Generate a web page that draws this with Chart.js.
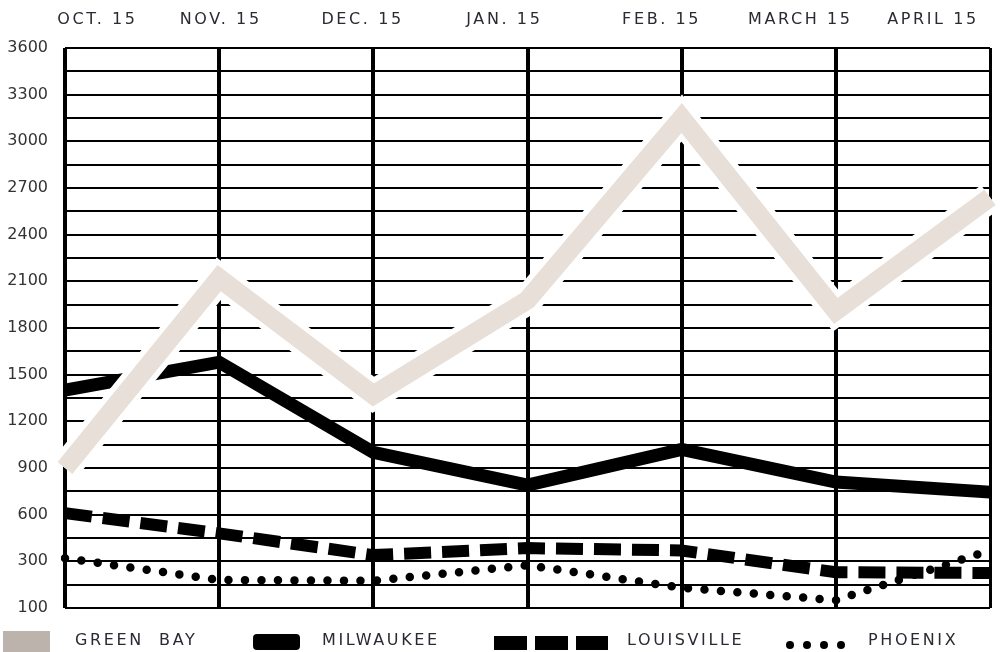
<!DOCTYPE html>
<html>
<head>
<meta charset="utf-8">
<script src="https://cdn.jsdelivr.net/npm/chart.js@4"></script>
<style>
  html, body { margin: 0; padding: 0; background: #fff; }
  #wrap { width: 1001px; height: 652px; }
</style>
</head>
<body>
<div id="wrap"><canvas id="chart"></canvas></div>
<script>
// months along the top, and where each label sits between the grid lines
const months = ['OCT. 15', 'NOV. 15', 'DEC. 15', 'JAN. 15', 'FEB. 15', 'MARCH 15', 'APRIL 15'];
const monthLabelAt = [0.21, 1.01, 1.93, 2.85, 3.87, 4.77, 5.63];

// y axis: lines every 150, labels every 300 (the bottom one is printed "100")
const yTickValues = [0, 300, 600, 900, 1200, 1500, 1800, 2100, 2400, 2700, 3000, 3300, 3600];
const yTickLabels = ['100', '300', '600', '900', '1200', '1500', '1800', '2100', '2400', '2700', '3000', '3300', '3600'];

const seriesNames = ['GREEN  BAY', 'MILWAUKEE', 'LOUISVILLE', 'PHOENIX'];
const greenBay = [900, 2120, 1370, 1980, 3150, 1910, 2640];
const milwaukee = [1400, 1580, 1000, 790, 1020, 810, 745];
const louisville = [610, 480, 340, 385, 370, 230, 225];
const phoenix = [320, 180, 175, 275, 130, 50, 370];

const textColor = '#2a2a33';
const fontFamily = '"DejaVu Sans", sans-serif';

// letter spacing for the top labels + the legend, drawn after the datasets
const cityLegend = {
	id: 'cityLegend',
	beforeDraw(chart) {
		chart.ctx.letterSpacing = '0px';
	},
	afterDatasetsDraw(chart) {
		chart.ctx.letterSpacing = '2.6px';
	},
	afterDraw(chart) {
		const ctx = chart.ctx;
		const ds = chart.data.datasets;
		const y = 641;
		ctx.save();

		// green bay swatch
		ctx.fillStyle = '#bcb3ad';
		ctx.fillRect(3, 631, 47, 21);

		// milwaukee bar
		ctx.fillStyle = ds[2].borderColor;
		ctx.beginPath();
		ctx.roundRect(253, 634, 47, 16, 4);
		ctx.fill();

		// louisville dashes
		ctx.strokeStyle = ds[3].borderColor;
		ctx.lineWidth = 14;
		ctx.setLineDash([33, 8]);
		ctx.beginPath();
		ctx.moveTo(494, 643);
		ctx.lineTo(608, 643);
		ctx.stroke();
		ctx.setLineDash([]);

		// phoenix dots
		ctx.fillStyle = ds[4].borderColor;
		[790, 807, 824, 841].forEach((x) => {
			ctx.beginPath();
			ctx.arc(x, 645, 4, 0, Math.PI * 2);
			ctx.fill();
		});

		ctx.fillStyle = textColor;
		ctx.font = '16px ' + fontFamily;
		ctx.textBaseline = 'middle';
		const textX = [75, 322, 627, 868];
		seriesNames.forEach((name, i) => ctx.fillText(name, textX[i], y));

		ctx.restore();
		ctx.letterSpacing = '0px';
	},
};

new Chart(document.getElementById('chart'), {
	type: 'line',
	data: {
		labels: months,
		datasets: [
			{
				label: seriesNames[0],
				data: greenBay,
				borderColor: '#e8e0d8',
				borderWidth: 19,
				borderJoinStyle: 'miter',
			},
			{
				label: 'halo',
				data: greenBay,
				borderColor: '#ffffff',
				borderWidth: 30,
				borderJoinStyle: 'miter',
			},
			{
				label: seriesNames[1],
				data: milwaukee,
				borderColor: '#000000',
				borderWidth: 13,
			},
			{
				label: seriesNames[2],
				data: louisville,
				borderColor: '#000000',
				borderWidth: 12,
				borderDash: [27, 11],
			},
			{
				label: seriesNames[3],
				data: phoenix,
				borderColor: '#000000',
				borderWidth: 8.5,
				borderDash: [0, 16.5],
				borderCapStyle: 'round',
			},
		],
	},
	options: {
		responsive: true,
		maintainAspectRatio: false,
		animation: false,
		elements: {
			point: { radius: 0, hoverRadius: 0 },
			line: { tension: 0, fill: false },
		},
		layout: { padding: { top: 0, right: 11, bottom: 0, left: 0 } },
		plugins: {
			legend: { display: false },
			tooltip: { enabled: false },
		},
		scales: {
			x: {
				type: 'category',
				offset: false,
				grid: {
					color: '#000',
					lineWidth: (c) => (c.index === months.length - 1 ? 3 : 4),
					drawTicks: false,
				},
				border: { display: false },
				ticks: { display: false },
				afterFit: (scale) => { scale.height = 44; },
			},
			xTop: {
				type: 'linear',
				position: 'top',
				min: 0,
				max: months.length - 1,
				grid: { display: false, drawTicks: false },
				border: { display: false },
				afterBuildTicks: (scale) => {
					scale.ticks = monthLabelAt.map((v) => ({ value: v }));
				},
				ticks: {
					z: 1,
					autoSkip: false,
					maxRotation: 0,
					padding: 19,
					color: textColor,
					font: { family: fontFamily, size: 16 },
					callback: (v, i) => months[i],
				},
				afterFit: (scale) => { scale.height = 48; },
			},
			y: {
				min: 0,
				max: 3600,
				grid: { color: '#000', lineWidth: 2, drawTicks: false },
				border: { display: false },
				ticks: {
					stepSize: 150,
					autoSkip: false,
					padding: 17,
					color: '#333',
					font: { family: fontFamily, size: 16 },
					callback: (v) => {
						const i = yTickValues.indexOf(v);
						return i < 0 ? '' : yTickLabels[i];
					},
				},
				afterFit: (scale) => { scale.width = 65; },
			},
		},
	},
	plugins: [cityLegend],
});
</script>
</body>
</html>
